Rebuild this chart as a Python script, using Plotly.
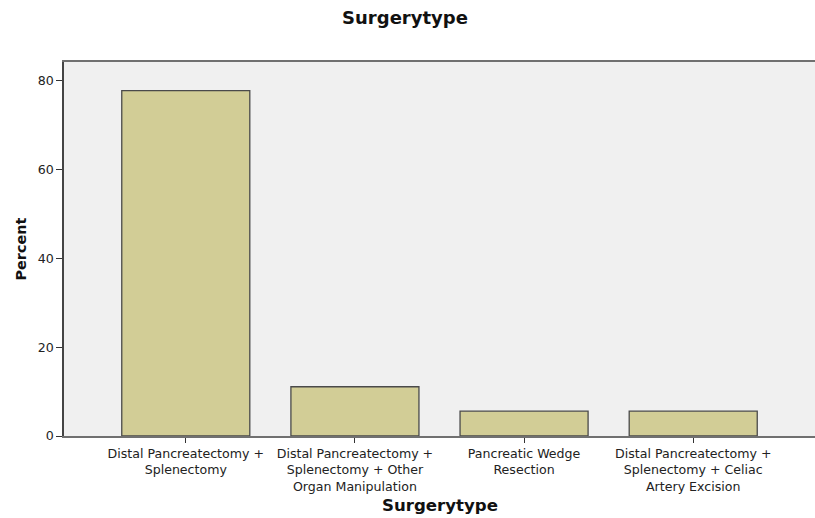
import plotly.graph_objects as go

categories = [
    "Distal Pancreatectomy +<br>Splenectomy",
    "Distal Pancreatectomy +<br>Splenectomy + Other<br>Organ Manipulation",
    "Pancreatic Wedge<br>Resection",
    "Distal Pancreatectomy +<br>Splenectomy + Celiac<br>Artery Excision",
]
percent = [77.8, 11.1, 5.6, 5.6]
y_ticks = [0, 20, 40, 60, 80]

fig = go.Figure(go.Bar(
    x=categories, y=percent, width=0.757,
    marker=dict(color="#D2CD96", line=dict(color="#4A4A4A", width=1.3)),
))

tick_font = dict(family="DejaVu Sans", size=12.6, color="#222")
bold = "DejaVu Sans"

annotations = [
    dict(x=0.5, xref="paper", y=0, yref="paper", yanchor="middle", yshift=-69.5,
         text="<b>Surgerytype</b>", showarrow=False,
         font=dict(family=bold, size=16.6, color="#111")),
    dict(x=0, xref="paper", y=0.5, yref="paper", xanchor="center", xshift=-43.5,
         text="<b>Percent</b>", textangle=-90, showarrow=False,
         font=dict(family=bold, size=14.4, color="#111")),
]

fig.update_layout(
    width=815, height=518,
    margin=dict(l=64, r=0, t=62, b=81.5, autoexpand=False),
    paper_bgcolor="white", plot_bgcolor="#F0F0F0",
    showlegend=False,
    title=dict(text="<b>Surgerytype</b>", x=405 / 815, xref="container", xanchor="center",
               y=1 - 17.5 / 518, yref="container", yanchor="middle",
               font=dict(family=bold, size=18, color="#111")),
    annotations=annotations,
)
fig.update_xaxes(
    range=[-0.72, 3.72], showgrid=False, showline=True, linecolor="#707070", linewidth=1.5,
    mirror=True, ticks="outside", ticklen=5, tickcolor="#333", tickangle=0,
    tickfont=tick_font, automargin=False,
)
fig.update_yaxes(
    range=[0, 84.27], tickvals=y_ticks, showgrid=False, zeroline=False, showline=True,
    linecolor="#444", linewidth=1.5, ticks="outside", ticklen=6, tickcolor="#333",
    tickfont=tick_font, automargin=False,
)
fig.write_html(
    "out.html",
    config={"displayModeBar": False},
    post_script="document.body.style.margin='0';document.body.style.overflow='hidden';",
)
